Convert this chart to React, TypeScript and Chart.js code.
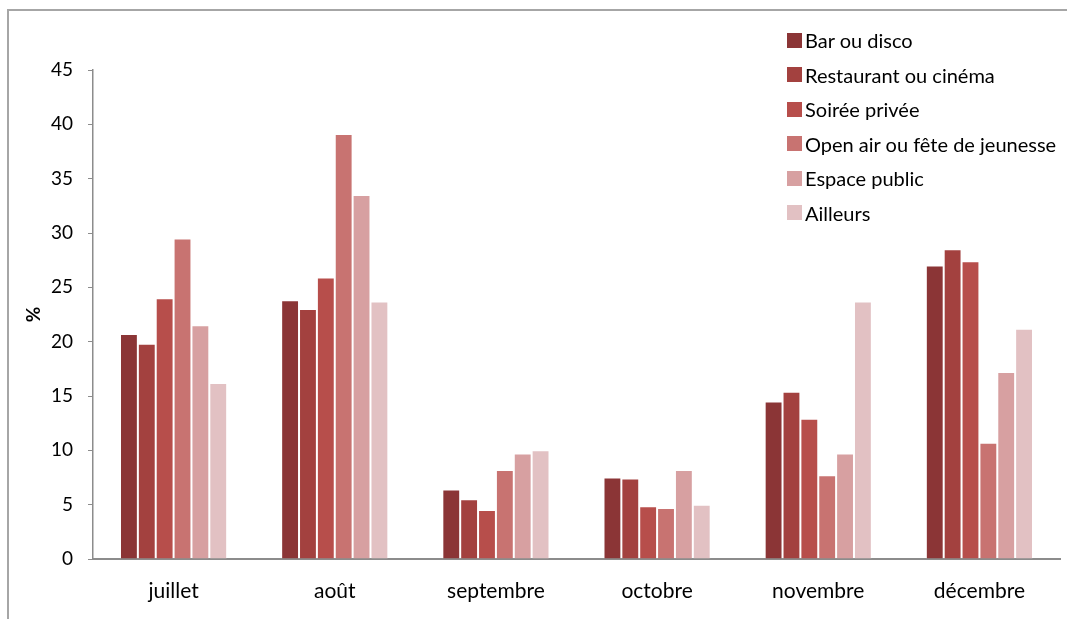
import React, { useEffect, useRef } from "react";
import { Chart, registerables } from "chart.js";

Chart.register(...registerables);

const categories = ["juillet", "août", "septembre", "octobre", "novembre", "décembre"];
const seriesNames = [
  "Bar ou disco",
  "Restaurant ou cinéma",
  "Soirée privée",
  "Open air ou fête de jeunesse",
  "Espace public",
  "Ailleurs",
];
const barOuDisco = [20.7, 23.8, 6.4, 7.5, 14.5, 27.0];
const restaurantOuCinema = [19.8, 23.0, 5.5, 7.4, 15.4, 28.5];
const soireePrivee = [24.0, 25.9, 4.5, 4.85, 12.9, 27.4];
const openAir = [29.5, 39.1, 8.2, 4.7, 7.7, 10.7];
const espacePublic = [21.5, 33.5, 9.7, 8.2, 9.7, 17.2];
const ailleurs = [16.2, 23.7, 10.0, 5.0, 23.7, 21.2];
const yMin = 0;
const yMax = 45;
const yStep = 5;

const colors = ["#8B3536", "#A3413F", "#B74E4B", "#C87371", "#D7A0A1", "#E2C1C3"];
const FONT = "Lato, 'Open Sans', sans-serif";

export default function App() {
  const ref = useRef<HTMLCanvasElement | null>(null);

  useEffect(() => {
    if (!ref.current) return;
    const values = [barOuDisco, restaurantOuCinema, soireePrivee, openAir, espacePublic, ailleurs];
    const chart = new Chart(ref.current, {
      type: "bar",
      data: {
        labels: categories,
        datasets: values.map((v, i) => ({
          label: seriesNames[i],
          data: v,
          backgroundColor: colors[i],
          borderColor: "rgba(255,255,255,0.35)",
          borderWidth: 1,
          barPercentage: 1,
          categoryPercentage: 0.665,
        })),
      },
      options: {
        animation: false,
        responsive: false,
        maintainAspectRatio: false,
        layout: { padding: { left: 20, top: 70, right: 7, bottom: 0 } },
        plugins: { legend: { display: false }, tooltip: { enabled: false } },
        scales: {
          x: {
            grid: { display: false, drawTicks: false },
            border: { display: true, color: "#8c8c8c", width: 2 },
            ticks: { color: "#000", font: { family: FONT, size: 21 }, padding: 20 },
            afterFit: (s: any) => {
              s.height = 60;
            },
          },
          y: {
            min: yMin,
            max: yMax,
            grid: { display: true, drawOnChartArea: false, drawTicks: true, tickLength: 5, color: "#8c8c8c" },
            border: { display: true, color: "#8c8c8c", width: 1.5 },
            ticks: { stepSize: yStep, color: "#000", font: { family: FONT, size: 19 }, padding: 15 },
            title: { display: true, text: "%", color: "#000", font: { family: FONT, size: 19, weight: "bold" }, padding: { top: 2, bottom: 0 } },
            afterFit: (s: any) => {
              s.width = 73;
            },
          },
        },
      },
    });
    return () => chart.destroy();
  }, []);

  return (
    <div style={{ position: "fixed", left: 0, top: 0, width: 1067, height: 619, overflow: "hidden", background: "#fff" }}>
      <div style={{ position: "absolute", left: 7, top: 9, width: 1100, height: 700, border: "2px solid #a6a6a6", boxSizing: "border-box" }} />
      <canvas ref={ref} width={1067} height={619} style={{ position: "absolute", left: 0, top: 0 }} />
      {seriesNames.map((n, i) => (
        <div key={n} style={{ position: "absolute", left: 787, top: 32 + i * 34.5, height: 16, display: "flex", alignItems: "center", fontFamily: FONT, fontSize: 20, color: "#000", whiteSpace: "nowrap" }}>
          <div style={{ width: 15, height: 15, background: colors[i], marginRight: 3, flexShrink: 0 }} />
          <span>{n}</span>
        </div>
      ))}
    </div>
  );
}
